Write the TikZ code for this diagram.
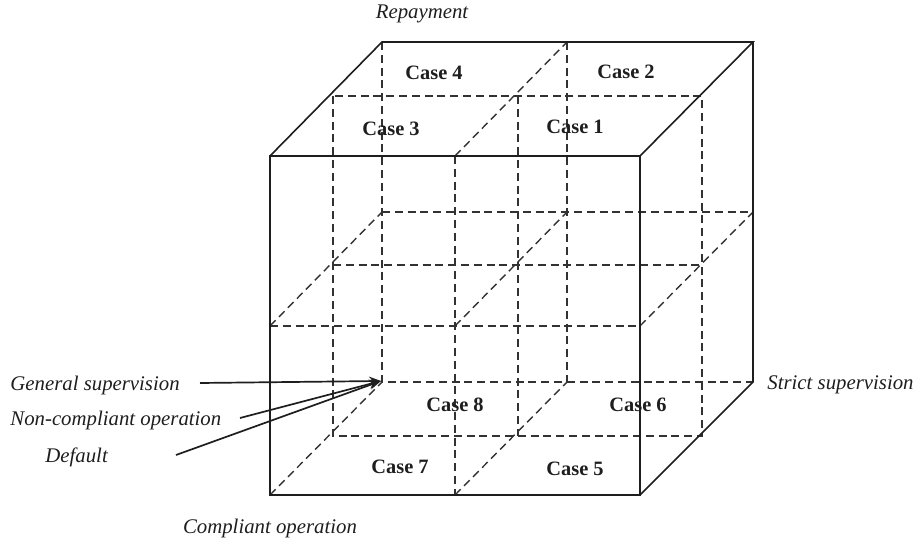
\documentclass[tikz,border=0pt]{standalone}
\usepackage{fontspec}
\setmainfont{Liberation Serif}
\usetikzlibrary{arrows.meta,calc}
\definecolor{ink}{RGB}{30,30,30}
\definecolor{hid}{RGB}{50,50,50}
\tikzset{
  edge/.style={draw=ink,line width=0.8pt},
  hidden/.style={draw=hid,line width=0.7pt,dash pattern=on 4pt off 2.4pt},
  lbl/.style={inner sep=0pt,font=\fontsize{10.4}{12}\selectfont\itshape,text=ink},
  casebox/.style={inner sep=0pt,font=\fontsize{10.2}{12}\selectfont\bfseries,text=ink},
  arr/.style={-{Stealth[length=6pt,width=4.5pt]},line width=0.85pt,ink},
}
\begin{document}
\begin{tikzpicture}[x=0.5pt,y=-0.5pt]
  \useasboundingbox (0,0) rectangle (913,544);
  % front face
  \coordinate (ftl) at (270,156); \coordinate (ftr) at (640,156);
  \coordinate (fbl) at (270,495); \coordinate (fbr) at (640,495);
  \coordinate (fT) at (455,156); \coordinate (fB) at (455,495);
  \coordinate (fL) at (270,326); \coordinate (fR) at (640,326);
  \coordinate (fC) at (455,326);
  % back face
  \coordinate (btl) at (382,42); \coordinate (btr) at (753,42);
  \coordinate (bbl) at (382,382); \coordinate (bbr) at (753,382);
  \coordinate (bT) at (567,42); \coordinate (bB) at (567,382);
  \coordinate (bL) at (382,212); \coordinate (bR) at (753,212);
  \coordinate (bC) at (567,212);
  % middle plane
  \coordinate (mtl) at (333,96); \coordinate (mbr) at (702,436);
  \coordinate (mT) at (518,96); \coordinate (mB) at (518,436);
  \coordinate (mL) at (333,265); \coordinate (mR) at (702,265);

  \draw[hidden] (btl)--(bbl)--(bbr) (bT)--(bB) (bL)--(bR);
  \draw[hidden] (mtl) rectangle (mbr) (mT)--(mB) (mL)--(mR);
  \draw[hidden] (fT)--(fB) (fL)--(fR);
  \draw[hidden] (fT)--(bT) (fL)--(bL) (fC)--(bC) (fR)--(bR)
    (fbl)--(bbl) (fB)--(bB);

  \draw[edge] (ftl) rectangle (fbr);
  \draw[edge] (ftl)--(btl)--(btr)--(ftr) (btr)--(bbr)--(fbr);

  \node[casebox] (c4) at (434,73) {Case 4};
  \node[casebox] (c2) at (626,72) {Case 2};
  \node[casebox] (c3) at (391,129) {Case 3};
  \node[casebox] (c1) at (575,127) {Case 1};
  \node[casebox] (c8) at (455,405) {Case 8};
  \node[casebox] (c6) at (638,405) {Case 6};
  \node[casebox] (c7) at (400,467) {Case 7};
  \node[casebox] (c5) at (575,469) {Case 5};

  \node[lbl] (rp) at (422,14) {Repayment};
  \node[lbl,anchor=west] (gs) at (10,385) {General supervision};
  \node[lbl,anchor=west] (nc) at (10,420) {Non-compliant operation};
  \node[lbl,anchor=west] (df) at (45,457) {Default};
  \node[lbl,anchor=west] (ss) at (767,385) {Strict supervision};
  \node[lbl] (co) at (270,528) {Compliant operation};

  \coordinate (tgt) at (381,381);
  \coordinate (gsa) at (200,383);
  \coordinate (nca) at (240,418);
  \coordinate (dfa) at (176,455);
  \draw[arr] (gsa)--(tgt);
  \draw[arr] (nca)--(tgt);
  \draw[arr] (dfa)--(tgt);
\end{tikzpicture}
\end{document}
